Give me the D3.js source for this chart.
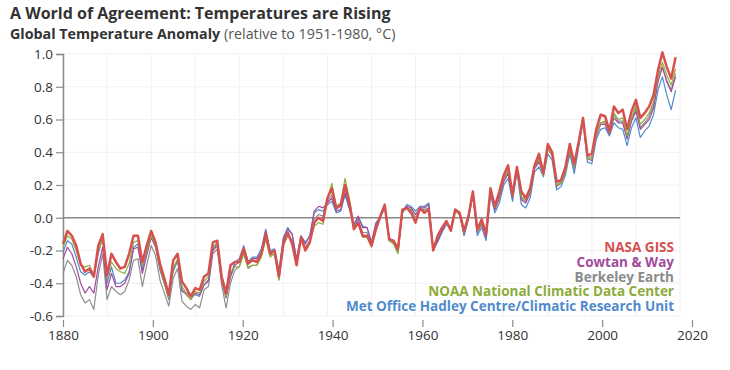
<!DOCTYPE html>
<html>
<head>
<meta charset="utf-8">
<script src="https://cdn.jsdelivr.net/npm/d3@7"></script>
<style>
  body { margin: 0; background: #fff; }
  svg { font-family: "Open Sans", Lato, sans-serif; }
</style>
</head>
<body>
<div id="chart"></div>
<script>

// annual anomalies, 1880-2019, relative to 1951-1980 (deg C)
const startYear = 1880;

const giss = [
  -0.16,-0.08,-0.11,-0.17,-0.28,-0.33,-0.31,-0.36,-0.17,-0.10,
  -0.35,-0.22,-0.27,-0.31,-0.30,-0.22,-0.11,-0.11,-0.27,-0.17,
  -0.08,-0.15,-0.28,-0.37,-0.47,-0.26,-0.22,-0.39,-0.43,-0.48,
  -0.43,-0.44,-0.36,-0.34,-0.15,-0.14,-0.36,-0.46,-0.29,-0.27,
  -0.27,-0.19,-0.28,-0.26,-0.27,-0.22,-0.10,-0.22,-0.20,-0.36,
  -0.16,-0.09,-0.16,-0.29,-0.12,-0.20,-0.15,-0.03, 0.00,-0.02,
   0.12, 0.18, 0.06, 0.08, 0.20, 0.09,-0.07,-0.03,-0.11,-0.11,
  -0.17,-0.07, 0.01, 0.08,-0.13,-0.14,-0.19, 0.05, 0.06, 0.03,
  -0.03, 0.06, 0.03, 0.05,-0.20,-0.11,-0.06,-0.02,-0.08, 0.05,
   0.03,-0.08, 0.01, 0.16,-0.07,-0.01,-0.10, 0.18, 0.07, 0.16,
   0.26, 0.32, 0.14, 0.31, 0.16, 0.12, 0.18, 0.32, 0.39, 0.27,
   0.45, 0.40, 0.22, 0.23, 0.31, 0.45, 0.33, 0.46, 0.61, 0.38,
   0.39, 0.54, 0.63, 0.62, 0.53, 0.68, 0.64, 0.66, 0.54, 0.65,
   0.72, 0.61, 0.64, 0.68, 0.75, 0.90, 1.01, 0.92, 0.85, 0.98
];

const noaa = [
  -0.18,-0.11,-0.13,-0.20,-0.29,-0.30,-0.29,-0.35,-0.20,-0.13,
  -0.37,-0.27,-0.31,-0.33,-0.34,-0.28,-0.15,-0.14,-0.29,-0.20,
  -0.11,-0.17,-0.30,-0.40,-0.49,-0.31,-0.25,-0.42,-0.46,-0.50,
  -0.45,-0.46,-0.39,-0.36,-0.18,-0.15,-0.38,-0.48,-0.33,-0.30,
  -0.30,-0.22,-0.30,-0.29,-0.29,-0.24,-0.13,-0.24,-0.22,-0.38,
  -0.17,-0.11,-0.15,-0.29,-0.13,-0.19,-0.15,-0.05,-0.03,-0.04,
   0.12, 0.21, 0.07, 0.09, 0.24, 0.11,-0.05,-0.04,-0.12,-0.12,
  -0.18,-0.08, 0.00, 0.07,-0.14,-0.16,-0.22, 0.04, 0.06, 0.04,
  -0.02, 0.05, 0.04, 0.05,-0.19,-0.12,-0.06,-0.03,-0.07, 0.04,
   0.02,-0.09, 0.00, 0.14,-0.08,-0.03,-0.10, 0.17, 0.06, 0.14,
   0.24, 0.29, 0.13, 0.30, 0.13, 0.11, 0.16, 0.31, 0.36, 0.26,
   0.42, 0.38, 0.20, 0.21, 0.28, 0.42, 0.31, 0.47, 0.61, 0.36,
   0.36, 0.51, 0.58, 0.59, 0.52, 0.64, 0.60, 0.61, 0.50, 0.61,
   0.69, 0.57, 0.60, 0.64, 0.71, 0.86, 0.95, 0.87, 0.81, 0.91
];

const hadcrut = [
  -0.21,-0.14,-0.16,-0.24,-0.33,-0.35,-0.33,-0.36,-0.22,-0.12,
  -0.40,-0.30,-0.40,-0.40,-0.38,-0.33,-0.18,-0.16,-0.32,-0.20,
  -0.12,-0.17,-0.32,-0.40,-0.48,-0.33,-0.26,-0.45,-0.46,-0.48,
  -0.47,-0.48,-0.41,-0.39,-0.20,-0.15,-0.37,-0.48,-0.36,-0.27,
  -0.25,-0.17,-0.27,-0.24,-0.24,-0.19,-0.07,-0.20,-0.19,-0.32,
  -0.12,-0.06,-0.10,-0.25,-0.11,-0.15,-0.11, 0.03, 0.05, 0.04,
   0.08, 0.10, 0.03, 0.04, 0.14, 0.05,-0.05, 0.00,-0.05,-0.06,
  -0.15,-0.03, 0.00, 0.06,-0.12,-0.15,-0.21, 0.03, 0.08, 0.07,
   0.04, 0.07, 0.07, 0.09,-0.20,-0.15,-0.09,-0.04,-0.07, 0.05,
   0.02,-0.11,-0.01, 0.14,-0.11,-0.06,-0.14, 0.14, 0.03, 0.09,
   0.20, 0.24, 0.10, 0.28, 0.08, 0.06, 0.12, 0.28, 0.31, 0.25,
   0.39, 0.35, 0.17, 0.19, 0.26, 0.39, 0.27, 0.43, 0.59, 0.34,
   0.33, 0.48, 0.54, 0.55, 0.50, 0.58, 0.55, 0.54, 0.44, 0.55,
   0.61, 0.49, 0.53, 0.56, 0.63, 0.78, 0.86, 0.75, 0.66, 0.78
];

const cowtan = [
  -0.25,-0.18,-0.22,-0.30,-0.40,-0.46,-0.42,-0.46,-0.30,-0.18,
  -0.44,-0.34,-0.42,-0.42,-0.40,-0.34,-0.19,-0.18,-0.34,-0.23,
  -0.12,-0.18,-0.31,-0.40,-0.50,-0.31,-0.26,-0.44,-0.47,-0.50,
  -0.46,-0.47,-0.41,-0.38,-0.20,-0.17,-0.39,-0.49,-0.36,-0.29,
  -0.27,-0.18,-0.27,-0.25,-0.25,-0.21,-0.08,-0.21,-0.20,-0.34,
  -0.13,-0.07,-0.10,-0.26,-0.11,-0.16,-0.11, 0.04, 0.07, 0.06,
   0.09, 0.12, 0.04, 0.05, 0.15, 0.06,-0.04, 0.01,-0.06,-0.06,
  -0.15,-0.04, 0.01, 0.07,-0.12,-0.15,-0.20, 0.04, 0.07, 0.06,
   0.02, 0.06, 0.06, 0.08,-0.19,-0.14,-0.08,-0.03,-0.06, 0.05,
   0.02,-0.10, 0.00, 0.15,-0.09,-0.04,-0.12, 0.16, 0.05, 0.12,
   0.22, 0.27, 0.12, 0.30, 0.11, 0.09, 0.15, 0.30, 0.34, 0.27,
   0.42, 0.38, 0.19, 0.21, 0.28, 0.42, 0.30, 0.45, 0.60, 0.36,
   0.35, 0.50, 0.57, 0.57, 0.51, 0.61, 0.58, 0.58, 0.48, 0.59,
   0.65, 0.54, 0.57, 0.60, 0.67, 0.83, 0.92, 0.83, 0.77, 0.86
];

const berkeley = [
  -0.34,-0.26,-0.29,-0.36,-0.47,-0.52,-0.50,-0.56,-0.35,-0.22,
  -0.50,-0.42,-0.45,-0.47,-0.45,-0.38,-0.26,-0.25,-0.42,-0.29,
  -0.17,-0.23,-0.38,-0.46,-0.54,-0.37,-0.31,-0.51,-0.54,-0.56,
  -0.53,-0.55,-0.44,-0.42,-0.22,-0.19,-0.41,-0.55,-0.40,-0.32,
  -0.30,-0.22,-0.31,-0.29,-0.29,-0.24,-0.12,-0.23,-0.22,-0.38,
  -0.16,-0.10,-0.14,-0.28,-0.12,-0.18,-0.14,-0.01, 0.02, 0.01,
   0.10, 0.14, 0.05, 0.07, 0.17, 0.08,-0.06,-0.01,-0.09,-0.09,
  -0.17,-0.06, 0.01, 0.07,-0.14,-0.15,-0.21, 0.03, 0.06, 0.05,
   0.00, 0.05, 0.05, 0.06,-0.20,-0.13,-0.07,-0.03,-0.07, 0.04,
   0.02,-0.09, 0.00, 0.14,-0.08,-0.04,-0.11, 0.16, 0.05, 0.13,
   0.23, 0.28, 0.12, 0.30, 0.12, 0.10, 0.16, 0.31, 0.35, 0.27,
   0.43, 0.38, 0.20, 0.22, 0.29, 0.43, 0.31, 0.46, 0.60, 0.37,
   0.37, 0.51, 0.58, 0.58, 0.52, 0.63, 0.59, 0.59, 0.49, 0.60,
   0.67, 0.55, 0.58, 0.62, 0.69, 0.84, 0.92, 0.84, 0.78, 0.88
];

const legendLabels = [
  "NASA GISS",
  "Cowtan & Way",
  "Berkeley Earth",
  "NOAA National Climatic Data Center",
  "Met Office Hadley Centre/Climatic Research Unit"
];

const yTicks = [ -0.6, -0.4, -0.2, 0.0, 0.2, 0.4, 0.6, 0.8, 1.0 ];
const xTicks = [ 1880, 1900, 1920, 1940, 1960, 1980, 2000, 2020 ];
const xGrid  = d3.range( 1880, 2021, 10 );

const width  = 730;
const height = 370;

const series = [
    { name: legendLabels[ 2 ], values: berkeley, color: "#8e8e8e", w: 1.2 },
    { name: legendLabels[ 4 ], values: hadcrut,  color: "#4f8bcb", w: 1.2 },
    { name: legendLabels[ 1 ], values: cowtan,   color: "#a24b9d", w: 1.2 },
    { name: legendLabels[ 3 ], values: noaa,     color: "#8fae3c", w: 1.2 },
    { name: legendLabels[ 0 ], values: giss,     color: "#d6514e", w: 2.5 }
];

const legendColors = [ "#d6514e", "#a24b9d", "#8a8a8a", "#8dab3b", "#4f8bcb" ];

// the data is drawn on a slightly narrower span than the year labels
const x     = d3.scaleLinear().domain( [ 1880, 2020 ] ).range( [ 63, 680 ] );
const xAxis = d3.scaleLinear().domain( [ 1880, 2020 ] ).range( [ 63, 692 ] );
const y     = d3.scaleLinear().domain( [ -0.6, 1.0 ] ).range( [ 316, 54 ] );

const svg = d3.select( "#chart" )
              .append( "svg" )
              .attr( "width", width )
              .attr( "height", height );

// titles
svg.append( "text" )
   .attr( "x", 10 ).attr( "y", 19 )
   .attr( "font-size", 16 ).attr( "font-weight", 700 )
   .attr( "fill", "#333" )
   .text( "A World of Agreement: Temperatures are Rising" );

const sub = svg.append( "text" )
               .attr( "x", 10 ).attr( "y", 38.5 )
               .attr( "font-size", 14.3 ).attr( "fill", "#333" );
sub.append( "tspan" ).attr( "font-weight", 700 ).text( "Global Temperature Anomaly" );
sub.append( "tspan" ).attr( "fill", "#555" ).text( " (relative to 1951-1980, °C)" );

// grid
const grid = svg.append( "g" ).attr( "stroke", "#f1f1f1" ).attr( "stroke-width", 1 );

grid.selectAll( "line.h" )
    .data( yTicks )
    .join( "line" )
    .attr( "class", "h" )
    .attr( "x1", x( 1880 ) ).attr( "x2", x( 2020 ) )
    .attr( "y1", d => y( d ) ).attr( "y2", d => y( d ) );

grid.selectAll( "line.v" )
    .data( xGrid )
    .join( "line" )
    .attr( "class", "v" )
    .attr( "x1", d => x( d ) ).attr( "x2", d => x( d ) )
    .attr( "y1", y( 1.0 ) ).attr( "y2", y( -0.6 ) );

// y axis
const gy = svg.append( "g" )
              .attr( "transform", `translate(${ x( 1880 ) },0)` )
              .call( d3.axisLeft( y ).tickValues( yTicks ).tickSize( 7 ).tickPadding( 3 ) );

gy.select( ".domain" ).attr( "stroke", "#8a8a8a" ).attr( "stroke-width", 1.5 );
gy.selectAll( ".tick line" ).attr( "stroke", "#8a8a8a" ).attr( "stroke-width", 1.2 );
gy.selectAll( ".tick text" )
  .attr( "font-size", 13.5 ).attr( "fill", "#333" )
  .attr( "font-family", "'Open Sans', sans-serif" )
  .text( d => d3.format( ".1f" )( d ).replace( "−", "-" ) );

// x axis
const gx = svg.append( "g" )
              .attr( "transform", `translate(0,${ y( -0.6 ) + 4 })` )
              .call( d3.axisBottom( xAxis ).tickValues( xTicks ).tickSize( 7 ).tickPadding( 3 ).tickFormat( d3.format( "d" ) ) );

gx.select( ".domain" ).remove();
gx.selectAll( ".tick line" ).attr( "stroke", "#8a8a8a" ).attr( "stroke-width", 1.2 );
gx.selectAll( ".tick text" )
  .attr( "font-size", 13.5 ).attr( "fill", "#333" )
  .attr( "font-family", "'Open Sans', sans-serif" );

// zero line
svg.append( "line" )
   .attr( "x1", x( 1880 ) ).attr( "x2", x( 2020 ) )
   .attr( "y1", y( 0 ) ).attr( "y2", y( 0 ) )
   .attr( "stroke", "#8a8a8a" ).attr( "stroke-width", 1.5 );

// lines
const line = d3.line()
               .x( ( d, i ) => x( startYear + i ) )
               .y( d => y( d ) );

svg.append( "g" )
   .selectAll( "path" )
   .data( series )
   .join( "path" )
   .attr( "fill", "none" )
   .attr( "stroke", d => d.color )
   .attr( "stroke-width", d => d.w )
   .attr( "stroke-linejoin", "round" )
   .attr( "d", d => line( d.values ) );

// legend
svg.append( "g" )
   .selectAll( "text" )
   .data( legendLabels )
   .join( "text" )
   .attr( "x", 674 )
   .attr( "y", ( d, i ) => 252 + i * 14.8 )
   .attr( "text-anchor", "end" )
   .attr( "font-size", 13.5 )
   .attr( "font-weight", 700 )
   .attr( "fill", ( d, i ) => legendColors[ i ] )
   .text( d => d );

</script>
</body>
</html>
